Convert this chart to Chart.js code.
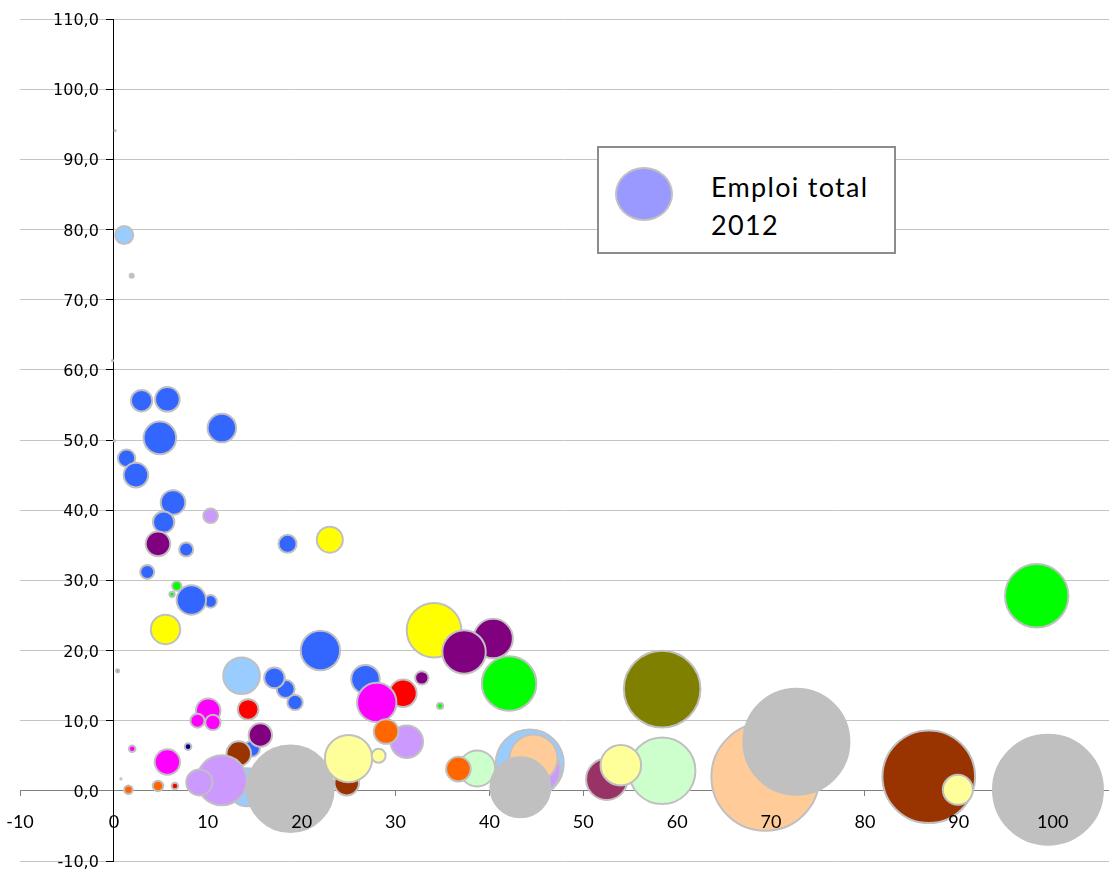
<!DOCTYPE html>
<html>
<head>
<meta charset="utf-8">
<script src="https://cdn.jsdelivr.net/npm/chart.js@4.4.0/dist/chart.umd.min.js"></script>
<style>
html, body { margin: 0; padding: 0; background: #fff; }
#cadre { position: relative; width: 1109px; height: 871px; }
#legende { position: absolute; left: 597px; top: 146px; width: 295px; height: 104px; border: 2px solid #8c8c8c; background: #fff; }
#pastille { position: absolute; left: 16px; top: 19px; width: 58px; height: 54px; box-sizing: border-box; border-radius: 50%; border: 2px solid #c0c0c0; background: #9999ff; }
#texteLegende { position: absolute; left: 112px; top: 20px; font-family: Lato, sans-serif; font-size: 27px; line-height: 38px; letter-spacing: 1.3px; color: #000; }
</style>
</head>
<body>
<div id="cadre">
  <canvas id="diagramme" width="1109" height="871"></canvas>
  <div id="legende"><div id="pastille"></div><div id="texteLegende">Emploi total<br>2012</div></div>
</div>
<script>
// Couleurs utilisées
var bleu = '#3366ff', bleuClair = '#99ccff', lavande = '#cc99ff', violet = '#800080', jaune = '#ffff00';
var vert = '#00ff00', magenta = '#ff00ff', rouge = '#ff0000', brun = '#993300', marine = '#000080';
var orange = '#ff6600', jauneClair = '#ffff99', menthe = '#ccffcc', peche = '#ffcc99', gris = '#c0c0c0';
var bordeaux = '#993366', olive = '#808000';

// Données (ordre = ordre de dessin)
var valeursX = [0.14, 1.1, 1.9, -0.15, 0.07, 2.95, 5.7, 4.9, 11.5, 1.35,
    2.35, 6.3, 5.3, 10.3, 4.7, 7.7, 18.5, 23.0, 3.55, 10.3,
    6.2, 6.7, 8.25, 5.5, 22.0, 0.4, 13.6, 18.3, 17.1, 19.3,
    10.05, 8.9, 10.55, 14.3, 14.7, 15.6, 13.3, 1.95, 7.9, 5.7,
    0.75, 1.55, 4.7, 6.5, 14.2, 11.5, 9.1, 18.8, 24.8, 25.0,
    28.2, 26.8, 30.8, 28.0, 31.2, 29.0, 32.8, 34.75, 34.1, 40.4,
    37.3, 42.1, 38.7, 36.7, 44.3, 45.0, 44.7, 43.3, 52.5, 58.4,
    54.0, 58.4, 69.4, 72.7, 86.8, 89.9, 99.5, 98.3];
var valeursY = [94.1, 79.2, 73.4, 61.3, 49.9, 55.6, 55.8, 50.3, 51.7, 47.4,
    45.0, 41.1, 38.3, 39.2, 35.2, 34.4, 35.2, 35.8, 31.2, 27.0,
    28.0, 29.2, 27.2, 23.0, 20.0, 17.1, 16.4, 14.5, 16.1, 12.6,
    11.4, 10.0, 9.75, 11.6, 6.0, 7.95, 5.3, 6.0, 6.3, 4.1,
    1.7, 0.15, 0.7, 0.7, 0.5, 1.5, 1.2, 0.3, 1.1, 4.6,
    5.0, 15.9, 13.9, 12.6, 7.0, 8.45, 16.1, 12.1, 22.9, 21.7,
    19.8, 15.3, 3.2, 3.1, 3.9, 3.0, 4.6, 0.5, 1.65, 2.85,
    3.65, 14.5, 2.0, 7.0, 2.0, 0.15, 0.15, 27.8];
var emploi = [0.1, 20.3, 1.0, 0.1, 0.1, 28.6, 37.8, 66.4, 51.1, 18.9,
    37.8, 37.8, 28.6, 13.3, 37.8, 12.3, 20.3, 42.3, 12.3, 9.9,
    1.8, 5.5, 54.0, 54.0, 97.0, 0.6, 83.7, 20.3, 26.5, 14.8,
    37.8, 12.3, 14.8, 26.5, 16.0, 34.2, 37.8, 2.7, 2.7, 40.3,
    0.1, 4.6, 7.0, 2.7, 90.3, 156, 42.3, 469, 37.8, 140,
    12.3, 51.1, 46.9, 97.0, 66.4, 37.8, 11.2, 2.3, 186, 97.0,
    118, 186, 81, 37.8, 289, 144, 144, 225, 107, 277,
    103, 367, 729, 702, 536, 56.3, 756, 251];
var couleurs = [gris, bleuClair, bleuClair, gris, gris, bleu, bleu, bleu, bleu, bleu,
    bleu, bleu, bleu, lavande, violet, bleu, bleu, jaune, bleu, bleu,
    vert, vert, bleu, jaune, bleu, bleu, bleuClair, bleu, bleu, bleu,
    magenta, magenta, magenta, rouge, bleu, violet, brun, magenta, marine, magenta,
    gris, orange, orange, rouge, bleuClair, lavande, lavande, gris, brun, jauneClair,
    jauneClair, bleu, rouge, magenta, lavande, orange, violet, vert, jaune, violet,
    violet, vert, menthe, orange, bleuClair, lavande, peche, gris, bordeaux, menthe,
    jauneClair, olive, peche, gris, brun, jauneClair, gris, vert];
var ticksX = [-10, 0, 10, 20, 30, 40, 50, 60, 70, 80, 90, 100];
var ticksY = [-10, 0, 10, 20, 30, 40, 50, 60, 70, 80, 90, 100, 110];

var points = [];
for (var i = 0; i < valeursX.length; i++) {
    points.push({ x: valeursX[i], y: valeursY[i], r: 2 * Math.sqrt(emploi[i]) });
}

function fixeTicks(liste) {
    return function (scale) {
        scale.ticks = liste.map(function (v) { return { value: v }; });
    };
}
// les axes croisés ne prennent pas de place dans la mise en page
function sansPlace(scale) {
    if (scale.isHorizontal()) scale.height = 0; else scale.width = 0;
    scale.paddingLeft = 0; scale.paddingRight = 0;
    scale.paddingTop = 0; scale.paddingBottom = 0;
}

var ctx = document.getElementById('diagramme').getContext('2d');
var diagramme = new Chart(ctx, {
    type: 'bubble',
    data: {
        datasets: [{
            label: 'Emploi total 2012',
            data: points,
            backgroundColor: couleurs,
            borderColor: '#c0c0c0',
            borderWidth: 2,
            xAxisID: 'x',
            yAxisID: 'y'
        }]
    },
    options: {
        responsive: false,
        animation: false,
        devicePixelRatio: 1,
        events: [],
        layout: { autoPadding: false, padding: { left: 20, top: 19, right: 0, bottom: 10 } },
        plugins: { legend: { display: false }, tooltip: { enabled: false } },
        scales: {
            x: {
                type: 'linear', min: -10, max: 106,
                position: { y: 0 },
                afterFit: sansPlace,
                afterBuildTicks: fixeTicks(ticksX),
                grid: { drawOnChartArea: false, drawTicks: true, tickLength: 5, tickColor: '#808080' },
                border: { color: '#808080', width: 1 },
                ticks: {
                    z: 1, padding: 16, maxRotation: 0, autoSkip: false, color: '#000',
                    font: { family: 'Lato', size: 18 },
                    callback: function (v) { return String(v); }
                }
            },
            y: {
                type: 'linear', min: -10, max: 110,
                position: { x: 0 },
                afterFit: sansPlace,
                afterBuildTicks: fixeTicks(ticksY),
                grid: { color: '#c4c4c4', lineWidth: 1, tickLength: 7, tickColor: '#000' },
                border: { color: '#000', width: 1 },
                ticks: { display: false }
            },
            yLabels: {
                axis: 'y', type: 'linear', min: -10, max: 110,
                position: { x: -1.6 },
                afterFit: sansPlace,
                afterBuildTicks: fixeTicks(ticksY),
                grid: { display: false },
                border: { display: false },
                ticks: {
                    padding: 0, labelOffset: 2, color: '#000',
                    font: { family: 'DejaVu Sans', size: 16 },
                    callback: function (v) { return v.toFixed(1).replace('.', ','); }
                }
            }
        }
    }
});
</script>
</body>
</html>
